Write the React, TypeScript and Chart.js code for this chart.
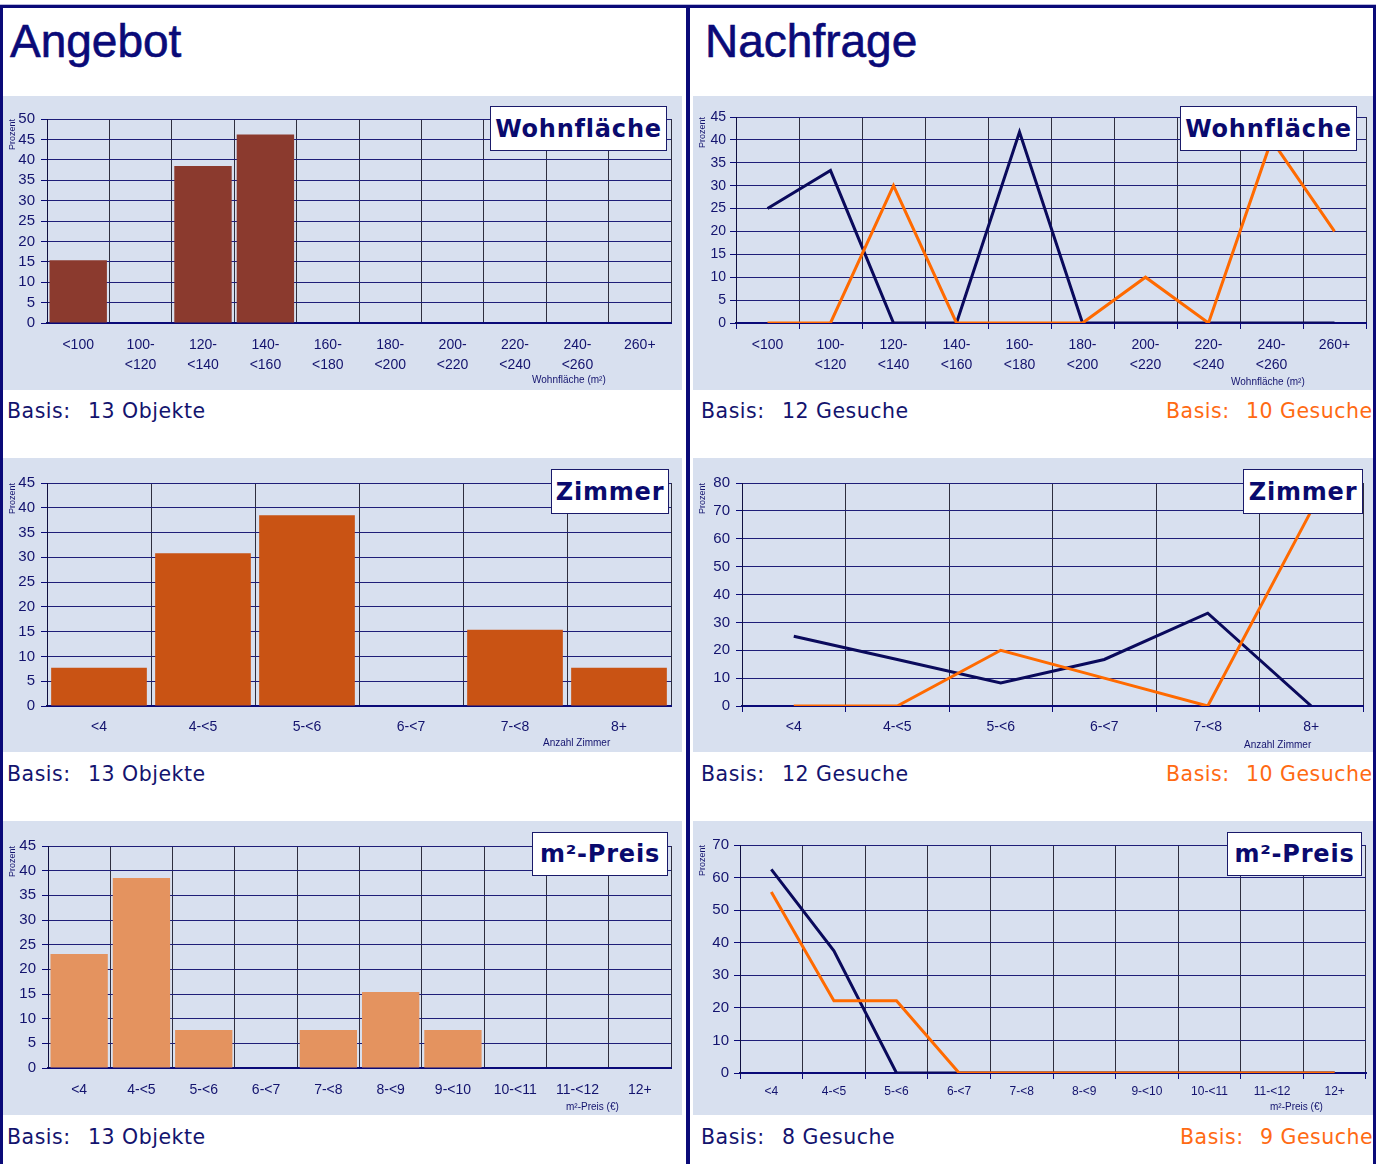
import React, { useEffect, useRef } from 'react';
import { Chart, registerables } from 'chart.js';

Chart.register(...registerables);

// ---------- data ----------
const wohnflaecheLabels: (string | string[])[] = [
  '<100', ['100-', '<120'], ['120-', '<140'], ['140-', '<160'], ['160-', '<180'],
  ['180-', '<200'], ['200-', '<220'], ['220-', '<240'], ['240-', '<260'], '260+',
];
const zimmerLabels = ['<4', '4-<5', '5-<6', '6-<7', '7-<8', '8+'];
const preisLabels = ['<4', '4-<5', '5-<6', '6-<7', '7-<8', '8-<9', '9-<10', '10-<11', '11-<12', '12+'];

const angebotWohnflaeche = [15.4, 0, 38.5, 46.2, 0, 0, 0, 0, 0, 0];
const angebotZimmer = [7.7, 30.8, 38.5, 0, 15.4, 7.7];
const angebotPreis = [23.1, 38.5, 7.7, 0, 7.7, 15.4, 7.7, 0, 0, 0];

const nachfrageWohnflaecheA = [25, 33.3, 0, 0, 41.7, 0, 0, 0, 0, 0];
const nachfrageWohnflaecheB = [0, 0, 30, 0, 0, 0, 10, 0, 40, 20];
const nachfrageZimmerA = [25, 16.7, 8.3, 16.7, 33.3, 0];
const nachfrageZimmerB = [0, 0, 20, 10, 0, 70];
const nachfragePreisA = [62.5, 37.5, 0, 0, 0, 0, 0, 0, 0, 0];
const nachfragePreisB = [55.6, 22.2, 22.2, 0, 0, 0, 0, 0, 0, 0];

const yMaxWohnLeft = 50;
const yMaxWohnRight = 45;
const yMaxZimmerLeft = 45;
const yMaxZimmerRight = 80;
const yMaxPreisLeft = 45;
const yMaxPreisRight = 70;

// ---------- styles ----------
const NAVY = '#0A0A78';
const TEXT_NAVY = '#13136E';
const ORANGE_TEXT = '#FF6A13';
const BG = '#D8E0EF';
const H_GRID = '#1E1E78';
const V_GRID = '#2E2E3E';
const LINE_NAVY = '#0A0A5C';
const LINE_ORANGE = '#FF6A00';
const BAR1 = '#8B3A2E';
const BAR2 = '#C95314';
const BAR3 = '#E4935F';
const TICK_FONT = "'Liberation Sans', Arial, sans-serif";
const VERDANA = "'DejaVu Sans', Verdana, sans-serif";

type Spec = {
  kind: 'bar' | 'line';
  canvas: { x: number; y: number; w: number; h: number };
  plot: { l: number; t: number; r: number; b: number };
  labels: (string | string[])[];
  max: number;
  step: number;
  datasets: any[];
  yFont: number;
  yPad: number;
  xFont: number;
  xPad: number;
  xLineH: number;
};

function PanelChart({ spec }: { spec: Spec }) {
  const ref = useRef<HTMLCanvasElement | null>(null);
  useEffect(() => {
    const c = ref.current;
    if (!c) return;
    const { canvas, plot } = spec;
    const leftW = plot.l - canvas.x;
    const padTop = plot.t - canvas.y;
    const padRight = canvas.x + canvas.w - plot.r;
    const bottomH = canvas.y + canvas.h - plot.b;
    const isLine = spec.kind === 'line';
    const chart = new Chart(c, {
      type: spec.kind,
      data: { labels: spec.labels as any, datasets: spec.datasets },
      options: {
        animation: false,
        responsive: false,
        maintainAspectRatio: false,
        layout: { padding: { top: padTop, right: padRight, left: 0, bottom: 0 } },
        plugins: { legend: { display: false }, tooltip: { enabled: false } },
        scales: {
          x: {
            type: 'category',
            offset: true,
            grid: {
              offset: true,
              color: V_GRID,
              lineWidth: 1,
              drawTicks: true,
              tickLength: 6,
              tickColor: isLine ? NAVY : 'rgba(0,0,0,0)',
            },
            border: { color: NAVY, width: 2 },
            ticks: {
              color: TEXT_NAVY,
              font: { family: TICK_FONT, size: spec.xFont, lineHeight: spec.xLineH },
              padding: spec.xPad,
              maxRotation: 0,
              minRotation: 0,
              autoSkip: false,
            },
            afterFit: (s: any) => {
              s.height = bottomH;
            },
          },
          y: {
            min: 0,
            max: spec.max,
            ticks: {
              stepSize: spec.step,
              autoSkip: false,
              color: TEXT_NAVY,
              font: { family: TICK_FONT, size: spec.yFont },
              padding: spec.yPad,
            },
            grid: { color: H_GRID, lineWidth: 1, tickLength: 6, tickColor: NAVY },
            border: { color: '#101040', width: 1 },
            title: {
              display: true,
              text: 'Prozent',
              align: 'end',
              color: TEXT_NAVY,
              font: { family: TICK_FONT, size: 9 },
              padding: { top: 4, bottom: 0 },
            },
            afterFit: (s: any) => {
              s.width = leftW;
            },
          },
        },
      } as any,
    });
    return () => chart.destroy();
  }, []);
  return (
    <canvas
      ref={ref}
      width={spec.canvas.w}
      height={spec.canvas.h}
      style={{
        position: 'absolute',
        left: spec.canvas.x,
        top: spec.canvas.y,
        width: spec.canvas.w,
        height: spec.canvas.h,
        background: BG,
        display: 'block',
      }}
    />
  );
}

const barDs = (data: number[], color: string) => ({
  data,
  backgroundColor: color,
  borderWidth: 0,
  barPercentage: 0.92,
  categoryPercentage: 1,
});
const lineDs = (data: number[], color: string, order: number) => ({
  data,
  borderColor: color,
  backgroundColor: color,
  borderWidth: 3,
  pointRadius: 0,
  fill: false,
  tension: 0,
  order,
});

const specs: Spec[] = [
  {
    kind: 'bar',
    canvas: { x: 3, y: 96, w: 679, h: 294 },
    plot: { l: 47, t: 119, r: 671, b: 323 },
    labels: wohnflaecheLabels,
    max: yMaxWohnLeft,
    step: 5,
    datasets: [barDs(angebotWohnflaeche, BAR1)],
    yFont: 15, yPad: 6, xFont: 14, xPad: 6, xLineH: 1.43,
  },
  {
    kind: 'line',
    canvas: { x: 693, y: 96, w: 680, h: 294 },
    plot: { l: 736, t: 117, r: 1366, b: 323 },
    labels: wohnflaecheLabels,
    max: yMaxWohnRight,
    step: 5,
    datasets: [lineDs(nachfrageWohnflaecheA, LINE_NAVY, 1), lineDs(nachfrageWohnflaecheB, LINE_ORANGE, 0)],
    yFont: 14, yPad: 4, xFont: 14, xPad: 6, xLineH: 1.43,
  },
  {
    kind: 'bar',
    canvas: { x: 3, y: 458, w: 679, h: 294 },
    plot: { l: 47, t: 483, r: 671, b: 706 },
    labels: zimmerLabels,
    max: yMaxZimmerLeft,
    step: 5,
    datasets: [barDs(angebotZimmer, BAR2)],
    yFont: 15, yPad: 6, xFont: 14, xPad: 5, xLineH: 1.43,
  },
  {
    kind: 'line',
    canvas: { x: 693, y: 458, w: 680, h: 294 },
    plot: { l: 742, t: 483, r: 1363, b: 706 },
    labels: zimmerLabels,
    max: yMaxZimmerRight,
    step: 10,
    datasets: [lineDs(nachfrageZimmerA, LINE_NAVY, 1), lineDs(nachfrageZimmerB, LINE_ORANGE, 0)],
    yFont: 15, yPad: 6, xFont: 14, xPad: 5, xLineH: 1.43,
  },
  {
    kind: 'bar',
    canvas: { x: 3, y: 821, w: 679, h: 294 },
    plot: { l: 48, t: 846, r: 671, b: 1068 },
    labels: preisLabels,
    max: yMaxPreisLeft,
    step: 5,
    datasets: [barDs(angebotPreis, BAR3)],
    yFont: 15, yPad: 6, xFont: 14, xPad: 6, xLineH: 1.4,
  },
  {
    kind: 'line',
    canvas: { x: 693, y: 821, w: 680, h: 294 },
    plot: { l: 740, t: 845, r: 1366, b: 1073 },
    labels: preisLabels,
    max: yMaxPreisRight,
    step: 10,
    datasets: [lineDs(nachfragePreisA, LINE_NAVY, 1), lineDs(nachfragePreisB, LINE_ORANGE, 0)],
    yFont: 15, yPad: 5, xFont: 12, xPad: 4, xLineH: 1.4,
  },
];

const boxes = [
  { text: 'Wohnfläche', x: 490, y: 106, w: 177, h: 45 },
  { text: 'Wohnfläche', x: 1180, y: 106, w: 177, h: 45 },
  { text: 'Zimmer', x: 551, y: 469, w: 118, h: 45 },
  { text: 'Zimmer', x: 1243, y: 469, w: 120, h: 45 },
  { text: 'm²-Preis', x: 532, y: 832, w: 136, h: 44 },
  { text: 'm²-Preis', x: 1227, y: 832, w: 135, h: 44 },
];

const axisTitles = [
  { text: 'Wohnfläche (m²)', x: 532, y: 380 },
  { text: 'Wohnfläche (m²)', x: 1231, y: 382 },
  { text: 'Anzahl Zimmer', x: 543, y: 743 },
  { text: 'Anzahl Zimmer', x: 1244, y: 745 },
  { text: 'm²-Preis (€)', x: 566, y: 1107 },
  { text: 'm²-Preis (€)', x: 1270, y: 1107 },
];

const basisTexts = [
  { label: 'Basis:', value: '13 Objekte', lx: 7, vx: 88, y: 411, color: TEXT_NAVY },
  { label: 'Basis:', value: '12 Gesuche', lx: 701, vx: 782, y: 411, color: TEXT_NAVY },
  { label: 'Basis:', value: '10 Gesuche', lx: 1166, vx: 1246, y: 411, color: ORANGE_TEXT },
  { label: 'Basis:', value: '13 Objekte', lx: 7, vx: 88, y: 774, color: TEXT_NAVY },
  { label: 'Basis:', value: '12 Gesuche', lx: 701, vx: 782, y: 774, color: TEXT_NAVY },
  { label: 'Basis:', value: '10 Gesuche', lx: 1166, vx: 1246, y: 774, color: ORANGE_TEXT },
  { label: 'Basis:', value: '13 Objekte', lx: 7, vx: 88, y: 1137, color: TEXT_NAVY },
  { label: 'Basis:', value: '8 Gesuche', lx: 701, vx: 782, y: 1137, color: TEXT_NAVY },
  { label: 'Basis:', value: '9 Gesuche', lx: 1180, vx: 1260, y: 1137, color: ORANGE_TEXT },
];

const abs = (x: number, y: number, w: number, h: number, bg: string): React.CSSProperties => ({
  position: 'absolute', left: x, top: y, width: w, height: h, background: bg,
});

const basisStyle = (x: number, y: number, color: string): React.CSSProperties => ({
  position: 'absolute', left: x, top: y - 12, fontFamily: VERDANA,
  fontSize: 20.5, lineHeight: '24px', letterSpacing: '0.5px', color, whiteSpace: 'nowrap',
});

export default function App() {
  return (
    <div
      style={{
        position: 'absolute', left: 0, top: 0, width: 1376, height: 1164,
        overflow: 'hidden', background: '#ffffff',
      }}
    >
      {specs.map((s, i) => (
        <PanelChart key={i} spec={s} />
      ))}

      {/* frame */}
      <div style={abs(0, 4, 1376, 1, '#B8B8DC')} />
      <div style={abs(0, 5, 1376, 3, NAVY)} />
      <div style={abs(0, 5, 3, 1200, NAVY)} />
      <div style={abs(1373, 5, 3, 1200, NAVY)} />
      <div style={abs(686, 5, 4, 1200, NAVY)} />

      {/* titles */}
      {[
        { t: 'Angebot', x: 10 },
        { t: 'Nachfrage', x: 705 },
      ].map((o) => (
        <div
          key={o.t}
          style={{
            position: 'absolute', left: o.x, top: 18, fontFamily: TICK_FONT,
            fontSize: 46, lineHeight: '46px', color: NAVY, whiteSpace: 'nowrap',
            WebkitTextStroke: '0.6px ' + NAVY,
          }}
        >
          {o.t}
        </div>
      ))}

      {boxes.map((b, i) => (
        <div
          key={'b' + i}
          style={{
            position: 'absolute', left: b.x, top: b.y, width: b.w, height: b.h,
            boxSizing: 'border-box', border: '1px solid #1A1A6A', background: '#ffffff',
            display: 'flex', alignItems: 'center', justifyContent: 'center',
            fontFamily: VERDANA, fontWeight: 'bold', fontSize: 24, letterSpacing: '0.8px',
            color: '#0A0A6E', whiteSpace: 'nowrap',
          }}
        >
          {b.text}
        </div>
      ))}

      {axisTitles.map((a, i) => (
        <div
          key={'a' + i}
          style={{
            position: 'absolute', left: a.x, top: a.y - 6, fontFamily: TICK_FONT,
            fontSize: 10, lineHeight: '12px', color: TEXT_NAVY, whiteSpace: 'nowrap',
          }}
        >
          {a.text}
        </div>
      ))}

      {basisTexts.map((b, i) => (
        <React.Fragment key={'t' + i}>
          <div style={basisStyle(b.lx, b.y, b.color)}>{b.label}</div>
          <div style={basisStyle(b.vx, b.y, b.color)}>{b.value}</div>
        </React.Fragment>
      ))}
    </div>
  );
}
